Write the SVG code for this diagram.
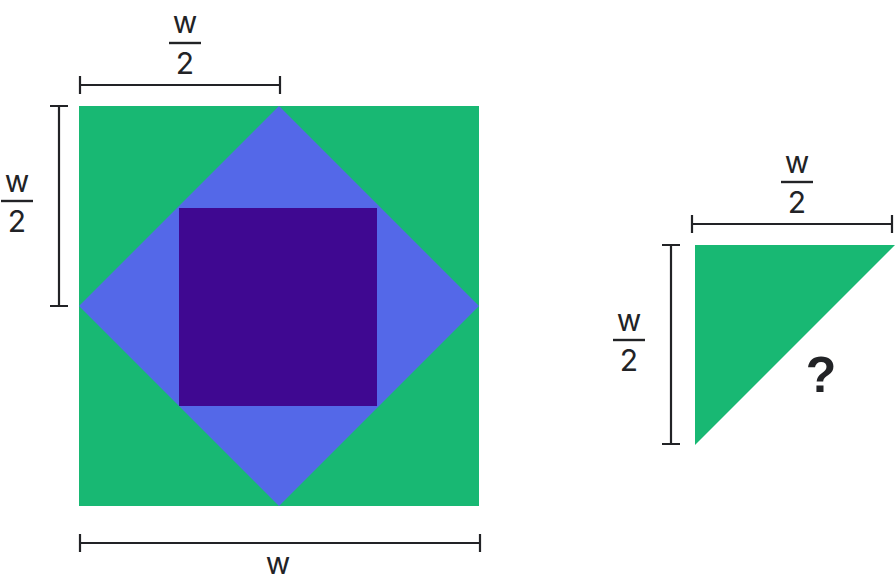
<svg xmlns="http://www.w3.org/2000/svg" width="895" height="584" viewBox="0 0 895 584">
<style>
.dim{stroke:#222326;stroke-width:2.2;fill:none}
.lbl{font-family:Inter,"Liberation Sans",Arial,sans-serif;font-size:30px;fill:#222326;text-anchor:middle}
.q{font-family:"Liberation Sans",Arial,sans-serif;font-size:50px;font-weight:bold;fill:#222326;text-anchor:middle}
.bar{stroke:#222326;stroke-width:2.4}
</style>
<rect width="895" height="584" fill="#ffffff"/>
<g id="square">
<rect x="79" y="106" width="400" height="400" fill="#18B873"/>
<polygon points="279,106 479,306 279,506 79,306" fill="#5468E8"/>
<rect x="179" y="208" width="198" height="198" fill="#3F0891"/>
</g>
<g id="triangle">
<polygon points="695,245 895,245 695,445" fill="#18B873"/>
<text class="q" x="821" y="392">?</text>
</g>
<g id="dimensions">
<path class="dim" d="M80,85H280M80,76V94M280,76V94"/>
<path class="dim" d="M59,106V306M50,106H68M50,306H68"/>
<path class="dim" d="M80,543H480M80,534V552M480,534V552"/>
<path class="dim" d="M692,224H892M692,215V233M892,215V233"/>
<path class="dim" d="M671,245V444M662,245H680M662,444H680"/>
</g>
<g id="labels">
<text class="lbl" x="185" y="33">w</text>
<line class="bar" x1="169" y1="43" x2="201" y2="43"/>
<text class="lbl" x="185" y="74">2</text>
<text class="lbl" x="17" y="192">w</text>
<line class="bar" x1="1" y1="201" x2="33" y2="201"/>
<text class="lbl" x="17" y="232">2</text>
<text class="lbl" x="797" y="173">w</text>
<line class="bar" x1="781" y1="182" x2="813" y2="182"/>
<text class="lbl" x="797" y="213">2</text>
<text class="lbl" x="629" y="331">w</text>
<line class="bar" x1="613" y1="340" x2="645" y2="340"/>
<text class="lbl" x="629" y="371">2</text>
<text class="lbl" x="278" y="574">w</text>
</g>
</svg>
